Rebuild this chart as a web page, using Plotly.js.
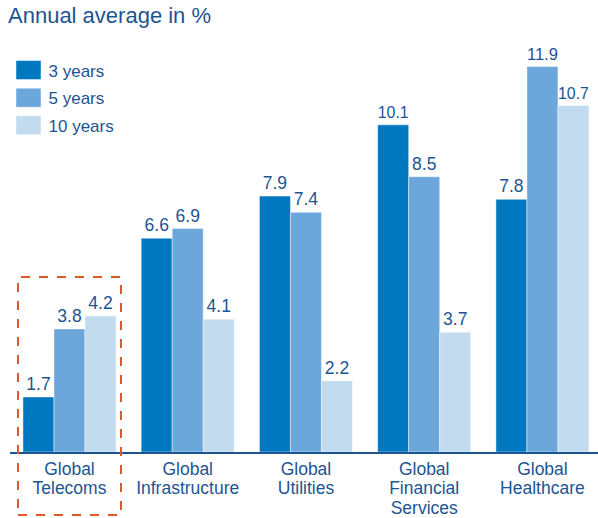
<!DOCTYPE html>
<html>
<head>
<meta charset="utf-8">
<script src="https://cdn.plot.ly/plotly-3.0.1.min.js"></script>
<style>html,body{margin:0;padding:0;background:#fff;}#chart{width:598px;height:518px;}</style>
</head>
<body>
<div id="chart"></div>
<script>
const categories = ['Global<br>Telecoms', 'Global<br>Infrastructure', 'Global<br>Utilities', 'Global<br>Financial<br>Services', 'Global<br>Healthcare'];
const years3 = [1.7, 6.6, 7.9, 10.1, 7.8];
const years5 = [3.8, 6.9, 7.4, 8.5, 11.9];
const years10 = [4.2, 4.1, 2.2, 3.7, 10.7];
const seriesNames = ['3 years', '5 years', '10 years'];
const seriesColors = ['#0078bf', '#6ca7db', '#c3dbef'];
const textColor = '#1d5592';

const W = 598, H = 518;
const mL = 10, mR = 0, mT = 40, mB = 66;
const plotW = W - mL - mR, plotH = H - mT - mB;

function mk(vals, i) {
  return {
    type: 'bar', x: categories, y: vals, name: seriesNames[i],
    legendgroup: 'g' + i,
    marker: {color: seriesColors[i], line: {color: 'rgba(255,255,255,0.45)', width: 1}},
    text: vals.map(v => v.toFixed(1)), textposition: 'outside',
    textfont: {size: 17.5, color: textColor, family: 'Arial'},
    cliponaxis: false, hoverinfo: 'none'
  };
}
const data = [mk(years3, 0), mk(years5, 1), mk(years10, 2)];

function px2paperX(px) { return (px - mL) / plotW; }
function px2paperY(py) { return (H - mB - py) / plotH; }

const layout = {
  width: W, height: H,
  margin: {l: mL, r: mR, t: mT, b: mB, pad: 0},
  paper_bgcolor: '#fff', plot_bgcolor: '#fff',
  font: {family: 'Arial', color: textColor},
  title: {text: 'Annual average in %', x: 8 / W, xref: 'container', xanchor: 'left',
          y: 1 - 8 / H, yref: 'container', yanchor: 'top',
          font: {size: 22, color: textColor, family: 'Arial'}},
  barmode: 'group', bargap: 0.213, bargroupgap: 0,
  xaxis: {range: [-0.503, 4.47], showgrid: false, zeroline: false, showline: true,
          linecolor: '#1d5592', linewidth: 1.5, ticks: '', tickfont: {size: 17.5, color: textColor},
          fixedrange: true},
  yaxis: {range: [0, 12.72], visible: false, fixedrange: true},
  showlegend: true,
  legend: {x: px2paperX(8.5), y: px2paperY(52.5), xanchor: 'left', yanchor: 'top',
           font: {size: 17, color: textColor}, bgcolor: 'rgba(0,0,0,0)', borderwidth: 0,
           traceorder: 'grouped', tracegroupgap: 2.5,
           itemclick: false, itemdoubleclick: false},
  shapes: [{
    type: 'rect', xref: 'paper', yref: 'paper',
    x0: px2paperX(18), x1: px2paperX(121), y0: px2paperY(515), y1: px2paperY(277),
    line: {color: '#e0582a', width: 2, dash: 'dash'}, fillcolor: 'rgba(0,0,0,0)', layer: 'above'
  }]
};
Plotly.newPlot('chart', data, layout, {displayModeBar: false, staticPlot: true}).then(function (gd) {
  // tighter line spacing for multi-line category labels
  gd.querySelectorAll('.xtick text tspan.line').forEach(function (t) {
    const dy = parseFloat(t.getAttribute('dy') || '0');
    if (dy) t.setAttribute('dy', (dy / 1.3 * 1.12).toFixed(3) + 'em');
  });
  // larger legend swatches like the original
  gd.querySelectorAll('.legend .legendpoints path').forEach(function (p) {
    p.setAttribute('d', 'M12.5,9.5H-12.5V-9.5H12.5Z');
  });
});
</script>
</body>
</html>
